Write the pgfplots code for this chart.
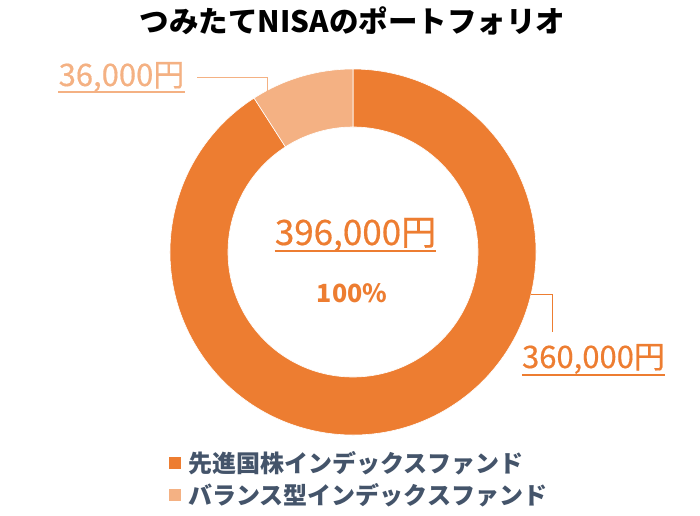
\documentclass[border=0pt]{standalone}
\usepackage{fontspec}
\setmainfont{Noto Sans CJK JP}
\newfontfamily\med{Noto Sans CJK JP}[FakeBold=0.5]
\usepackage{pgfplots}
\pgfplotsset{compat=1.18}
\usepackage{pgfplotstable}
\definecolor{dk}{HTML}{ED7D31}
\definecolor{lt}{HTML}{F4B183}
\definecolor{lg}{HTML}{44546A}

\pgfplotstableread{
value
360000
36000
}\portfolio

\newcommand{\fs}[1]{\fontsize{#1bp}{#1bp}\selectfont}

\begin{document}
\pgfplotstablegetelem{0}{value}\of\portfolio \edef\va{\pgfplotsretval}%
\pgfplotstablegetelem{1}{value}\of\portfolio \edef\vb{\pgfplotsretval}%
\edef\angB{\fpeval{90+360*\vb/(\va+\vb)}}%
\begin{tikzpicture}
\path[use as bounding box] (0,0) rectangle (700bp,516bp);
\begin{axis}[x=1bp,y=1bp,xmin=0,xmax=700,ymin=0,ymax=516,hide axis,clip=false,anchor=south west,at={(0,0)}]
% donut slices
\fill[dk,draw=white,line width=0.6bp] ([shift={(\angB:183bp)}]axis cs:353,264) arc[start angle=\angB,end angle=450,radius=183bp]
  -- ([shift={(450:125bp)}]axis cs:353,264) arc[start angle=450,end angle=\angB,radius=125bp] -- cycle;
\fill[lt,draw=white,line width=0.6bp] ([shift={(90:183bp)}]axis cs:353,264) arc[start angle=90,end angle=\angB,radius=183bp]
  -- ([shift={(\angB:125bp)}]axis cs:353,264) arc[start angle=\angB,end angle=90,radius=125bp] -- cycle;
% title
\node[anchor=base,inner sep=0] at (axis cs:352.5,483) {\fs{29.5}\bfseries つみたてNISAのポートフォリオ};
% center
\node[anchor=base,inner sep=0,text=dk] (c) at (axis cs:355.5,271) {\fs{35}\med 396,000円};
\draw[dk,line width=1.6bp] ([yshift=-6bp]c.base west) -- ([yshift=-6bp]c.base east);
\node[anchor=base,inner sep=0,text=dk] at (axis cs:352,214) {\fs{25}\bfseries 100\%};
% label 360,000
\node[anchor=base,inner sep=0,text=dk] (a) at (axis cs:593.5,148) {\fs{31}\med 360,000円};
\draw[dk,line width=1.6bp] ([yshift=-7bp]a.base west) -- ([yshift=-7bp]a.base east);
\draw[dk,line width=1bp] (axis cs:531,221) -- (axis cs:552,221) -- (axis cs:552,184);
% label 36,000
\node[anchor=base,inner sep=0,text=lt] (b) at (axis cs:121.5,430) {\fs{31}\med 36,000円};
\draw[lt,line width=1.6bp] ([yshift=-6bp]b.base west) -- ([yshift=-6bp]b.base east);
\draw[lt,line width=1bp] (axis cs:197,438) -- (axis cs:267,438) -- (axis cs:267,423);
% legend
\fill[dk] (axis cs:169,47) rectangle (axis cs:181,59);
\node[anchor=west,inner sep=0,text=lg] at (axis cs:188,53) {\fs{24}\bfseries 先進国株インデックスファンド};
\fill[lt] (axis cs:169,15) rectangle (axis cs:181,27);
\node[anchor=west,inner sep=0,text=lg] at (axis cs:188,21) {\fs{24}\bfseries バランス型インデックスファンド};
\end{axis}
\end{tikzpicture}
\end{document}
